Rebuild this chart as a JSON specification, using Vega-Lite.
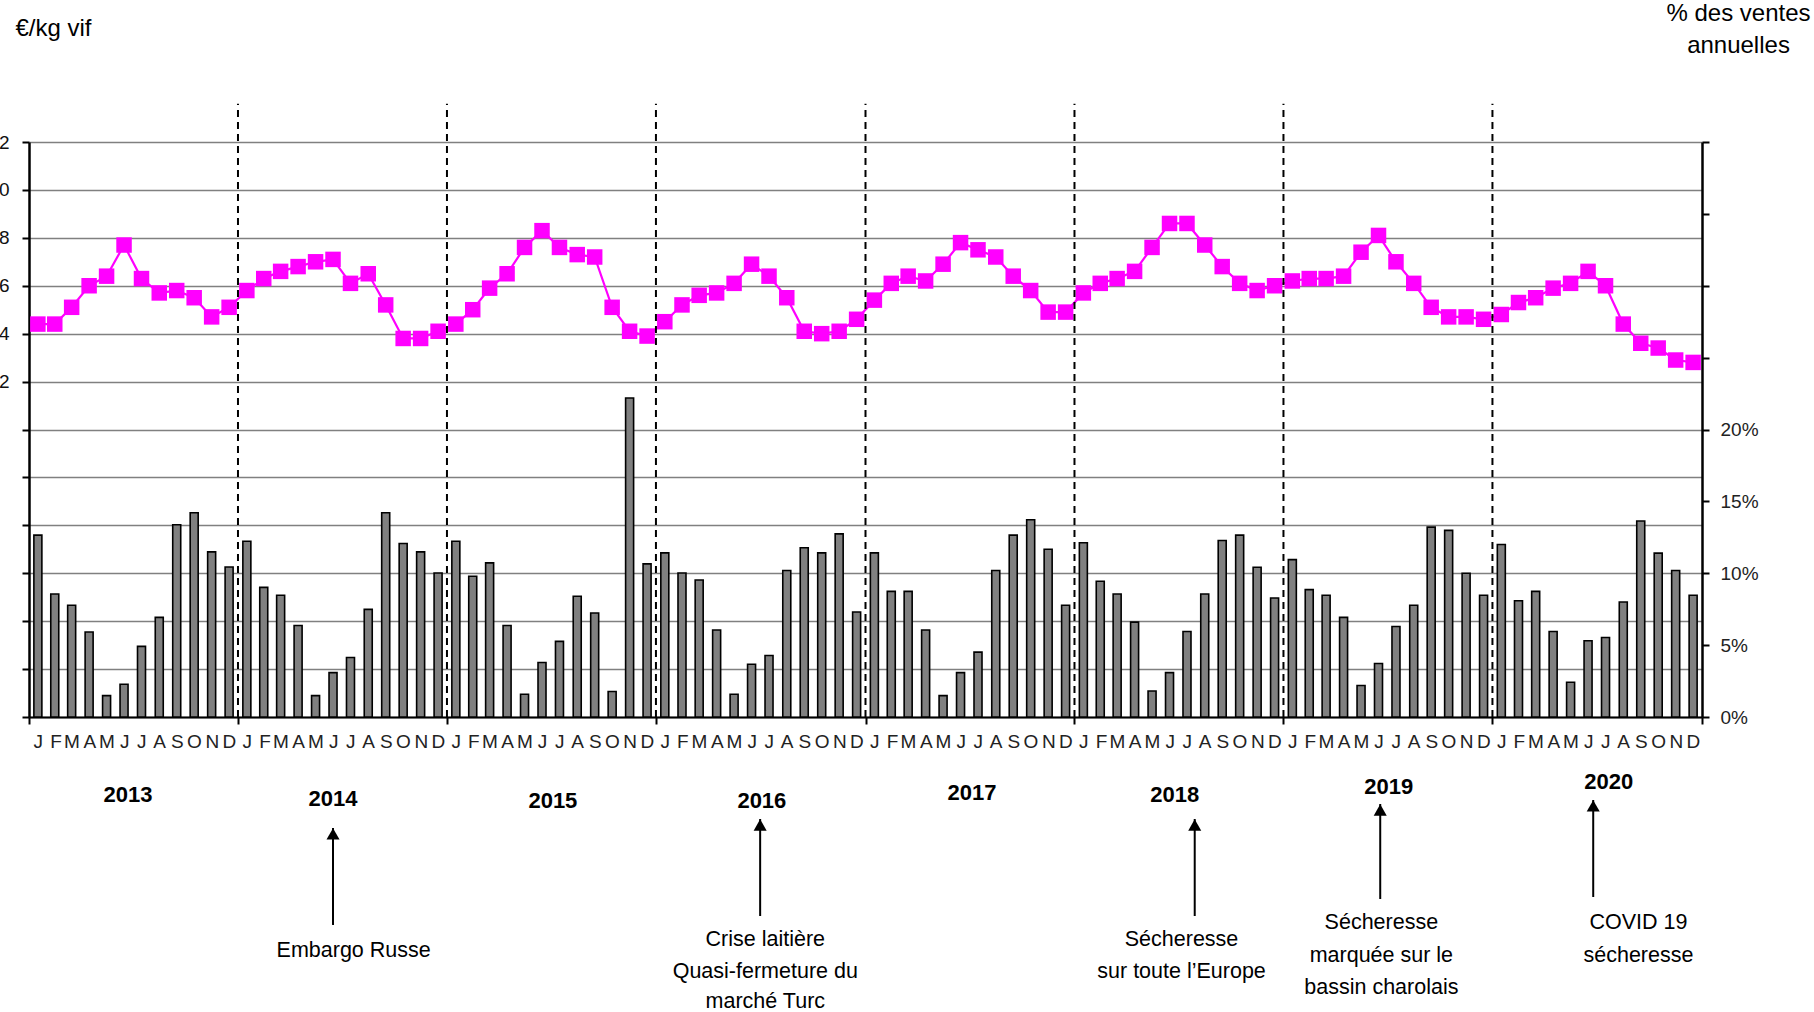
{
  "$schema": "https://vega.github.io/schema/vega-lite/v6.json",
  "width": 1673,
  "height": 575,
  "autosize": {"type": "none"},
  "padding": {"left": 29, "top": 142, "right": 112, "bottom": 295},
  "background": "white",
  "config": {"view": {"stroke": null}, "font": "Liberation Sans"},
  "datasets": {
    "mensuel": [
      {"date": "2013-01-01", "prix": 2.44, "ventes": 12.65},
      {"date": "2013-02-01", "prix": 2.44, "ventes": 8.56},
      {"date": "2013-03-01", "prix": 2.51, "ventes": 7.77},
      {"date": "2013-04-01", "prix": 2.60, "ventes": 5.91},
      {"date": "2013-05-01", "prix": 2.64, "ventes": 1.49},
      {"date": "2013-06-01", "prix": 2.77, "ventes": 2.28},
      {"date": "2013-07-01", "prix": 2.63, "ventes": 4.91},
      {"date": "2013-08-01", "prix": 2.57, "ventes": 6.93},
      {"date": "2013-09-01", "prix": 2.58, "ventes": 13.37},
      {"date": "2013-10-01", "prix": 2.55, "ventes": 14.21},
      {"date": "2013-11-01", "prix": 2.47, "ventes": 11.49},
      {"date": "2013-12-01", "prix": 2.51, "ventes": 10.44},
      {"date": "2014-01-01", "prix": 2.58, "ventes": 12.23},
      {"date": "2014-02-01", "prix": 2.63, "ventes": 9.02},
      {"date": "2014-03-01", "prix": 2.66, "ventes": 8.47},
      {"date": "2014-04-01", "prix": 2.68, "ventes": 6.37},
      {"date": "2014-05-01", "prix": 2.70, "ventes": 1.49},
      {"date": "2014-06-01", "prix": 2.71, "ventes": 3.09},
      {"date": "2014-07-01", "prix": 2.61, "ventes": 4.14},
      {"date": "2014-08-01", "prix": 2.65, "ventes": 7.49},
      {"date": "2014-09-01", "prix": 2.52, "ventes": 14.21},
      {"date": "2014-10-01", "prix": 2.38, "ventes": 12.07},
      {"date": "2014-11-01", "prix": 2.38, "ventes": 11.49},
      {"date": "2014-12-01", "prix": 2.41, "ventes": 10.02},
      {"date": "2015-01-01", "prix": 2.44, "ventes": 12.23},
      {"date": "2015-02-01", "prix": 2.50, "ventes": 9.79},
      {"date": "2015-03-01", "prix": 2.59, "ventes": 10.72},
      {"date": "2015-04-01", "prix": 2.65, "ventes": 6.37},
      {"date": "2015-05-01", "prix": 2.76, "ventes": 1.58},
      {"date": "2015-06-01", "prix": 2.83, "ventes": 3.79},
      {"date": "2015-07-01", "prix": 2.76, "ventes": 5.26},
      {"date": "2015-08-01", "prix": 2.73, "ventes": 8.40},
      {"date": "2015-09-01", "prix": 2.72, "ventes": 7.23},
      {"date": "2015-10-01", "prix": 2.51, "ventes": 1.77},
      {"date": "2015-11-01", "prix": 2.41, "ventes": 22.19},
      {"date": "2015-12-01", "prix": 2.39, "ventes": 10.65},
      {"date": "2016-01-01", "prix": 2.45, "ventes": 11.42},
      {"date": "2016-02-01", "prix": 2.52, "ventes": 10.02},
      {"date": "2016-03-01", "prix": 2.56, "ventes": 9.53},
      {"date": "2016-04-01", "prix": 2.57, "ventes": 6.05},
      {"date": "2016-05-01", "prix": 2.61, "ventes": 1.58},
      {"date": "2016-06-01", "prix": 2.69, "ventes": 3.67},
      {"date": "2016-07-01", "prix": 2.64, "ventes": 4.28},
      {"date": "2016-08-01", "prix": 2.55, "ventes": 10.19},
      {"date": "2016-09-01", "prix": 2.41, "ventes": 11.77},
      {"date": "2016-10-01", "prix": 2.40, "ventes": 11.42},
      {"date": "2016-11-01", "prix": 2.41, "ventes": 12.74},
      {"date": "2016-12-01", "prix": 2.46, "ventes": 7.30},
      {"date": "2017-01-01", "prix": 2.54, "ventes": 11.42},
      {"date": "2017-02-01", "prix": 2.61, "ventes": 8.74},
      {"date": "2017-03-01", "prix": 2.64, "ventes": 8.74},
      {"date": "2017-04-01", "prix": 2.62, "ventes": 6.05},
      {"date": "2017-05-01", "prix": 2.69, "ventes": 1.49},
      {"date": "2017-06-01", "prix": 2.78, "ventes": 3.09},
      {"date": "2017-07-01", "prix": 2.75, "ventes": 4.51},
      {"date": "2017-08-01", "prix": 2.72, "ventes": 10.19},
      {"date": "2017-09-01", "prix": 2.64, "ventes": 12.65},
      {"date": "2017-10-01", "prix": 2.58, "ventes": 13.72},
      {"date": "2017-11-01", "prix": 2.49, "ventes": 11.67},
      {"date": "2017-12-01", "prix": 2.49, "ventes": 7.77},
      {"date": "2018-01-01", "prix": 2.57, "ventes": 12.12},
      {"date": "2018-02-01", "prix": 2.61, "ventes": 9.44},
      {"date": "2018-03-01", "prix": 2.63, "ventes": 8.56},
      {"date": "2018-04-01", "prix": 2.66, "ventes": 6.60},
      {"date": "2018-05-01", "prix": 2.76, "ventes": 1.81},
      {"date": "2018-06-01", "prix": 2.86, "ventes": 3.09},
      {"date": "2018-07-01", "prix": 2.86, "ventes": 5.95},
      {"date": "2018-08-01", "prix": 2.77, "ventes": 8.56},
      {"date": "2018-09-01", "prix": 2.68, "ventes": 12.28},
      {"date": "2018-10-01", "prix": 2.61, "ventes": 12.65},
      {"date": "2018-11-01", "prix": 2.58, "ventes": 10.42},
      {"date": "2018-12-01", "prix": 2.60, "ventes": 8.28},
      {"date": "2019-01-01", "prix": 2.62, "ventes": 10.95},
      {"date": "2019-02-01", "prix": 2.63, "ventes": 8.86},
      {"date": "2019-03-01", "prix": 2.63, "ventes": 8.47},
      {"date": "2019-04-01", "prix": 2.64, "ventes": 6.93},
      {"date": "2019-05-01", "prix": 2.74, "ventes": 2.19},
      {"date": "2019-06-01", "prix": 2.81, "ventes": 3.72},
      {"date": "2019-07-01", "prix": 2.70, "ventes": 6.30},
      {"date": "2019-08-01", "prix": 2.61, "ventes": 7.77},
      {"date": "2019-09-01", "prix": 2.51, "ventes": 13.21},
      {"date": "2019-10-01", "prix": 2.47, "ventes": 12.98},
      {"date": "2019-11-01", "prix": 2.47, "ventes": 10.00},
      {"date": "2019-12-01", "prix": 2.46, "ventes": 8.47},
      {"date": "2020-01-01", "prix": 2.48, "ventes": 12.00},
      {"date": "2020-02-01", "prix": 2.53, "ventes": 8.09},
      {"date": "2020-03-01", "prix": 2.55, "ventes": 8.74},
      {"date": "2020-04-01", "prix": 2.59, "ventes": 5.95},
      {"date": "2020-05-01", "prix": 2.61, "ventes": 2.42},
      {"date": "2020-06-01", "prix": 2.66, "ventes": 5.30},
      {"date": "2020-07-01", "prix": 2.60, "ventes": 5.53},
      {"date": "2020-08-01", "prix": 2.44, "ventes": 8.00},
      {"date": "2020-09-01", "prix": 2.36, "ventes": 13.63},
      {"date": "2020-10-01", "prix": 2.34, "ventes": 11.40},
      {"date": "2020-11-01", "prix": 2.29, "ventes": 10.19},
      {"date": "2020-12-01", "prix": 2.28, "ventes": 8.47}
    ],
    "limites": [
      {"date": "2014-01-01"}, {"date": "2015-01-01"}, {"date": "2016-01-01"},
      {"date": "2017-01-01"}, {"date": "2018-01-01"}, {"date": "2019-01-01"},
      {"date": "2020-01-01"}
    ],
    "annees": [
      {"date": "2013-06-23", "niveau": -13.57, "annee": "2013"},
      {"date": "2014-06-16", "niveau": -14.26, "annee": "2014"},
      {"date": "2015-07-05", "niveau": -14.61, "annee": "2015"},
      {"date": "2016-07-04", "niveau": -14.61, "annee": "2016"},
      {"date": "2017-07-06", "niveau": -13.22, "annee": "2017"},
      {"date": "2018-06-25", "niveau": -13.57, "annee": "2018"},
      {"date": "2019-07-04", "niveau": -12.17, "annee": "2019"},
      {"date": "2020-07-22", "niveau": -11.30, "annee": "2020"}
    ],
    "textes": [
      {"date": "2014-07-22", "niveau": -40.70, "texte": "Embargo Russe"},
      {"date": "2016-07-10", "niveau": -38.78, "texte": "Crise laitière"},
      {"date": "2016-07-10", "niveau": -44.35, "texte": "Quasi-fermeture du"},
      {"date": "2016-07-10", "niveau": -49.60, "texte": "marché Turc"},
      {"date": "2018-07-07", "niveau": -38.78, "texte": "Sécheresse"},
      {"date": "2018-07-07", "niveau": -44.35, "texte": "sur toute l’Europe"},
      {"date": "2019-06-21", "niveau": -35.83, "texte": "Sécheresse"},
      {"date": "2019-06-21", "niveau": -41.57, "texte": "marquée sur le"},
      {"date": "2019-06-21", "niveau": -47.13, "texte": "bassin charolais"},
      {"date": "2020-09-12", "niveau": -35.83, "texte": "COVID 19"},
      {"date": "2020-09-12", "niveau": -41.57, "texte": "sécheresse"}
    ],
    "fleches": [
      {"date": "2014-06-16", "haut": -19.30, "bas": -36.17},
      {"date": "2016-07-01", "haut": -17.74, "bas": -34.61},
      {"date": "2018-07-30", "haut": -17.74, "bas": -34.61},
      {"date": "2019-06-19", "haut": -15.13, "bas": -31.65},
      {"date": "2020-06-25", "haut": -14.43, "bas": -31.30}
    ]
  },
  "layer": [
    {
      "data": {"name": "mensuel"},
      "mark": {"type": "bar", "fill": "#808080", "stroke": "black", "strokeWidth": 1.6, "width": 8},
      "encoding": {
        "x": {
          "field": "date", "type": "temporal", "timeUnit": "utcyearmonth", "bandPosition": 0.5,
          "scale": {"type": "utc", "domain": [{"year": 2013, "month": 1, "date": 1, "utc": true}, {"year": 2021, "month": 1, "date": 1, "utc": true}]},
          "axis": {
            "orient": "bottom", "title": null, "grid": false, "ticks": false,
            "tickCount": {"interval": "month", "step": 1},
            "labelExpr": "utcyear(datum.value) > 2020 ? '' : substring('JFMAMJJASOND', utcmonth(datum.value), utcmonth(datum.value) + 1)",
            "labelOffset": 8.7, "labelOverlap": false, "labelFlush": false,
            "labelFont": "Liberation Sans", "labelFontSize": 19, "labelColor": "#222", "labelPadding": 15,
            "domain": true, "domainColor": "black", "domainWidth": 2
          }
        },
        "y": {
          "field": "ventes", "type": "quantitative",
          "scale": {"domain": [0, 40], "nice": false, "zero": true},
          "axis": {
            "orient": "right", "values": [0, 5, 10, 15, 20, 25, 30, 35, 40], "grid": false,
            "labelExpr": "datum.value <= 20 ? datum.value + '%' : ''",
            "labelFont": "Liberation Sans", "labelFontSize": 19, "labelColor": "#222", "labelPadding": 11,
            "tickSize": 7, "tickWidth": 2, "tickColor": "black",
            "domainColor": "black", "domainWidth": 2.5,
            "title": ["% des ventes", "annuelles"], "titleAngle": 0, "titleAlign": "center", "titleBaseline": "top",
            "titleX": 36, "titleY": -141, "titleLineHeight": 32,
            "titleFont": "Liberation Sans", "titleFontSize": 24, "titleFontWeight": "normal", "titleColor": "black"
          }
        }
      }
    },
    {
      "layer": [
        {
          "data": {"name": "mensuel"},
          "mark": {"type": "line", "stroke": "#FF00FF", "strokeWidth": 2.2,
                   "point": {"shape": "square", "filled": true, "fill": "#FF00FF", "size": 240, "opacity": 1}},
          "encoding": {
            "x": {
              "field": "date", "type": "temporal", "timeUnit": "utcyearmonth", "bandPosition": 0.5,
              "scale": {"type": "utc", "domain": [{"year": 2013, "month": 1, "date": 1, "utc": true}, {"year": 2021, "month": 1, "date": 1, "utc": true}]},
              "axis": {
                "orient": "bottom", "title": null, "grid": false, "labels": false, "domain": false,
                "tickCount": {"interval": "year", "step": 1},
                "ticks": true, "tickSize": 7, "tickWidth": 2, "tickColor": "black"
              }
            },
            "y": {
              "field": "prix", "type": "quantitative",
              "scale": {"domain": [0.8, 3.2], "nice": false, "zero": false},
              "axis": {
                "orient": "left",
                "values": [0.8, 1.0, 1.2, 1.4, 1.6, 1.8, 2.0, 2.2, 2.4, 2.6, 2.8, 3.0, 3.2],
                "grid": true, "gridColor": "#808080", "gridWidth": 1.5,
                "labelExpr": "datum.value > 2.15 ? slice(format(datum.value, '.1f'), -1) : ''",
                "labelFont": "Liberation Sans", "labelFontSize": 19, "labelColor": "#111", "labelPadding": 13,
                "tickSize": 7, "tickWidth": 2, "tickColor": "black",
                "domainColor": "black", "domainWidth": 2.5,
                "title": "€/kg vif", "titleAngle": 0, "titleAlign": "left", "titleBaseline": "alphabetic",
                "titleX": -14, "titleY": -107,
                "titleFont": "Liberation Sans", "titleFontSize": 24, "titleFontWeight": "normal", "titleColor": "black"
              }
            }
          }
        },
        {
          "data": {"name": "limites"},
          "mark": {"type": "rule", "stroke": "black", "strokeWidth": 2, "strokeDash": [7, 5]},
          "encoding": {
            "x": {"field": "date", "type": "temporal",
                  "scale": {"type": "utc", "domain": [{"year": 2013, "month": 1, "date": 1, "utc": true}, {"year": 2021, "month": 1, "date": 1, "utc": true}]},
                  "axis": {
                    "orient": "bottom", "title": null, "grid": false, "labels": false, "domain": false,
                    "tickCount": {"interval": "year", "step": 1},
                    "ticks": true, "tickSize": 7, "tickWidth": 2, "tickColor": "black"
                  }},
            "y": {"datum": 0.8, "type": "quantitative",
                  "scale": {"domain": [0.8, 3.2], "nice": false, "zero": false},
                  "axis": {
                    "orient": "left",
                    "values": [0.8, 1.0, 1.2, 1.4, 1.6, 1.8, 2.0, 2.2, 2.4, 2.6, 2.8, 3.0, 3.2],
                    "grid": true, "gridColor": "#808080", "gridWidth": 1.5,
                    "labelExpr": "datum.value > 2.15 ? slice(format(datum.value, '.1f'), -1) : ''",
                    "labelFont": "Liberation Sans", "labelFontSize": 19, "labelColor": "#111", "labelPadding": 13,
                    "tickSize": 7, "tickWidth": 2, "tickColor": "black",
                    "domainColor": "black", "domainWidth": 2.5,
                    "title": "€/kg vif", "titleAngle": 0, "titleAlign": "left", "titleBaseline": "alphabetic",
                    "titleX": -14, "titleY": -107,
                    "titleFont": "Liberation Sans", "titleFontSize": 24, "titleFontWeight": "normal", "titleColor": "black"
                  }},
            "y2": {"datum": 3.36}
          }
        }
      ]
    },
    {
      "layer": [
        {
          "data": {"name": "annees"},
          "mark": {"type": "text", "font": "Liberation Sans", "fontWeight": "bold", "fontSize": 22, "align": "center", "baseline": "middle", "color": "black"},
          "encoding": {
            "x": {"field": "date", "type": "temporal", "axis": null,
                  "scale": {"type": "utc", "domain": [{"year": 2013, "month": 1, "date": 1, "utc": true}, {"year": 2021, "month": 1, "date": 1, "utc": true}]}},
            "y": {"field": "niveau", "type": "quantitative", "axis": null, "scale": {"domain": [0, 100], "nice": false, "zero": false}},
            "text": {"field": "annee"}
          }
        },
        {
          "data": {"name": "textes"},
          "mark": {"type": "text", "font": "Liberation Sans", "fontSize": 21.5, "align": "center", "baseline": "middle", "color": "black"},
          "encoding": {
            "x": {"field": "date", "type": "temporal", "axis": null,
                  "scale": {"type": "utc", "domain": [{"year": 2013, "month": 1, "date": 1, "utc": true}, {"year": 2021, "month": 1, "date": 1, "utc": true}]}},
            "y": {"field": "niveau", "type": "quantitative", "axis": null, "scale": {"domain": [0, 100], "nice": false, "zero": false}},
            "text": {"field": "texte"}
          }
        },
        {
          "data": {"name": "fleches"},
          "mark": {"type": "rule", "stroke": "black", "strokeWidth": 2},
          "encoding": {
            "x": {"field": "date", "type": "temporal", "axis": null,
                  "scale": {"type": "utc", "domain": [{"year": 2013, "month": 1, "date": 1, "utc": true}, {"year": 2021, "month": 1, "date": 1, "utc": true}]}},
            "y": {"field": "haut", "type": "quantitative", "axis": null, "scale": {"domain": [0, 100], "nice": false, "zero": false}},
            "y2": {"field": "bas"}
          }
        },
        {
          "data": {"name": "fleches"},
          "mark": {"type": "point", "shape": "triangle-up", "filled": true, "fill": "black", "size": 170, "opacity": 1, "yOffset": 6},
          "encoding": {
            "x": {"field": "date", "type": "temporal", "axis": null,
                  "scale": {"type": "utc", "domain": [{"year": 2013, "month": 1, "date": 1, "utc": true}, {"year": 2021, "month": 1, "date": 1, "utc": true}]}},
            "y": {"field": "haut", "type": "quantitative", "axis": null, "scale": {"domain": [0, 100], "nice": false, "zero": false}}
          }
        }
      ]
    }
  ],
  "resolve": {"scale": {"y": "independent"}, "axis": {"x": "independent"}}
}
